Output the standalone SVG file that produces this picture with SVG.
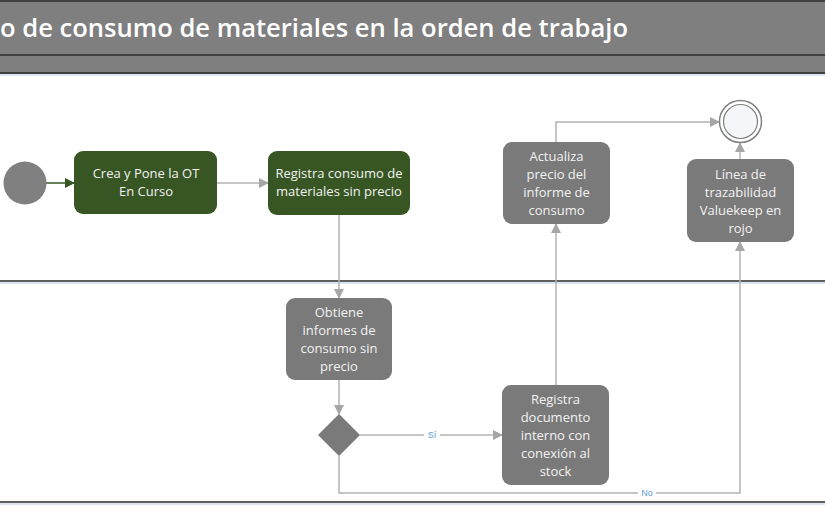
<svg xmlns="http://www.w3.org/2000/svg" width="825" height="510" viewBox="0 0 825 510">
<defs>
<marker id="ag" markerWidth="10" markerHeight="10" refX="9" refY="5" orient="auto" markerUnits="userSpaceOnUse"><path d="M0,0 L10,5 L0,10 z" fill="#a6a6a6"/></marker>
<marker id="agr" markerWidth="10" markerHeight="10" refX="9" refY="5" orient="auto" markerUnits="userSpaceOnUse"><path d="M0,0 L10,5 L0,10 z" fill="#375623"/></marker>
<style>
.t{font-family:"Open Sans","Liberation Sans",Arial,sans-serif;font-size:13px;fill:#f2f2f2;text-anchor:middle}
.g{fill:#7a7a7a}
.gr{fill:#375623}
.c{fill:none;stroke:#b3b3b3;stroke-width:1.5}
.lane{stroke:#5f5f5f;stroke-width:2}
.sh{stroke:#dce6f2;stroke-width:2}
.lbl{font-family:"Liberation Sans",Arial,sans-serif;font-size:9px;fill:#5b9bd5;text-anchor:middle}
</style>
</defs>
<rect width="825" height="510" fill="#ffffff"/>
<g id="header">
<rect x="0" y="0" width="825" height="74" fill="#7f7f7f"/>
<line x1="0" y1="1" x2="825" y2="1" stroke="#404040" stroke-width="2"/>
<line x1="0" y1="55" x2="825" y2="55" stroke="#404040" stroke-width="2"/>
<line x1="0" y1="73" x2="825" y2="73" stroke="#404040" stroke-width="2"/>
<line x1="0" y1="75" x2="825" y2="75" class="sh"/>
<text x="0" y="37" font-family="Open Sans,Liberation Sans,Arial,sans-serif" font-weight="600" font-size="25" fill="#ffffff" textLength="628" lengthAdjust="spacingAndGlyphs">o de consumo de materiales en la orden de trabajo</text>
</g>
<g id="lanes">
<line x1="0" y1="281" x2="825" y2="281" class="lane"/>
<line x1="0" y1="283" x2="825" y2="283" class="sh"/>
<line x1="0" y1="502" x2="825" y2="502" class="lane"/>
<line x1="0" y1="504" x2="825" y2="504" class="sh"/>
</g>
<g id="connectors">
<line x1="46" y1="183" x2="74" y2="183" stroke="#375623" stroke-width="1.5" marker-end="url(#agr)"/>
<line x1="217" y1="183" x2="268" y2="183" class="c" marker-end="url(#ag)"/>
<line x1="339" y1="215" x2="339" y2="298" class="c" marker-end="url(#ag)"/>
<line x1="339" y1="380" x2="339" y2="414" class="c" marker-end="url(#ag)"/>
<line x1="360" y1="435" x2="502" y2="435" class="c" marker-end="url(#ag)"/>
<polyline points="339,456 339,493 740,493 740,242" class="c" marker-end="url(#ag)"/>
<line x1="556" y1="385" x2="556" y2="224" class="c" marker-end="url(#ag)"/>
<polyline points="556,142 556,122 719,122" class="c" marker-end="url(#ag)"/>
<line x1="740" y1="159" x2="740" y2="143" class="c" marker-end="url(#ag)"/>
<rect x="424" y="430" width="16" height="10" fill="#ffffff"/>
<text x="432" y="438" class="lbl">Sí</text>
<rect x="638" y="488" width="18" height="10" fill="#ffffff"/>
<text x="647" y="496" class="lbl">No</text>
</g>
<g id="start"><circle cx="25" cy="183" r="21.5" fill="#808080"/></g>
<g id="crea">
<rect x="74" y="151" width="143" height="63" rx="9" class="gr"/>
<text class="t" x="146" y="178">Crea y Pone la OT</text>
<text class="t" x="146" y="196">En Curso</text>
</g>
<g id="registra">
<rect x="268" y="151" width="142" height="64" rx="9" class="gr"/>
<text class="t" x="339" y="178">Registra consumo de</text>
<text class="t" x="339" y="196">materiales sin precio</text>
</g>
<g id="actualiza">
<rect x="503" y="142" width="107" height="82" rx="9" class="g"/>
<text class="t" x="556.5" y="161">Actualiza</text>
<text class="t" x="556.5" y="179">precio del</text>
<text class="t" x="556.5" y="197">informe de</text>
<text class="t" x="556.5" y="215">consumo</text>
</g>
<g id="end">
<circle cx="740.5" cy="121.5" r="21" fill="#ffffff" stroke="#808080" stroke-width="1.5"/>
<circle cx="740.5" cy="121.5" r="17" fill="#f4f6f9" stroke="#808080" stroke-width="1.2"/>
</g>
<g id="linea">
<rect x="687" y="159" width="107" height="83" rx="9" class="g"/>
<text class="t" x="740.5" y="179">Línea de</text>
<text class="t" x="740.5" y="197">trazabilidad</text>
<text class="t" x="740.5" y="215">Valuekeep en</text>
<text class="t" x="740.5" y="233">rojo</text>
</g>
<g id="obtiene">
<rect x="286" y="298" width="106" height="82" rx="9" class="g"/>
<text class="t" x="339" y="317">Obtiene</text>
<text class="t" x="339" y="335">informes de</text>
<text class="t" x="339" y="353">consumo sin</text>
<text class="t" x="339" y="371">precio</text>
</g>
<g id="decision"><polygon points="339,414 360,435 339,456 318,435" fill="#7a7a7a"/></g>
<g id="documento">
<rect x="502" y="385" width="107" height="100" rx="9" class="g"/>
<text class="t" x="555.5" y="404">Registra</text>
<text class="t" x="555.5" y="422">documento</text>
<text class="t" x="555.5" y="440">interno con</text>
<text class="t" x="555.5" y="458">conexión al</text>
<text class="t" x="555.5" y="476">stock</text>
</g>
</svg>
